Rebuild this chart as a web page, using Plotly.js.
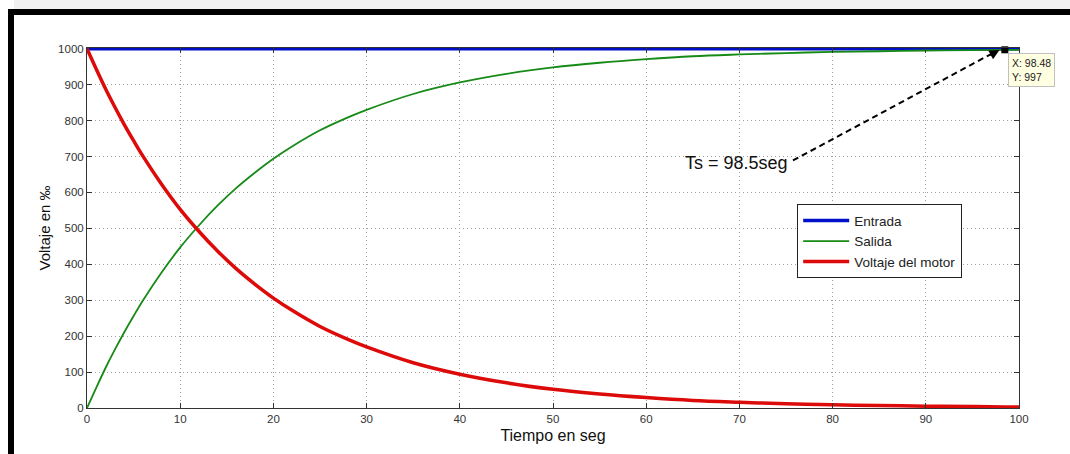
<!DOCTYPE html>
<html>
<head>
<meta charset="utf-8">
<script src="https://cdn.plot.ly/plotly-3.0.1.min.js"></script>
<style>
html,body{margin:0;padding:0;background:#fff;}
#wrap{position:relative;width:1070px;height:454px;overflow:hidden;}
#chart{position:absolute;left:0;top:0;width:1070px;height:454px;}
.bar{position:absolute;background:#000;z-index:5;}
#topband{position:absolute;left:14px;top:0;width:1056px;height:9px;background:#f1f1f1;z-index:5;}
</style>
</head>
<body>
<div id="wrap">
<div id="chart"></div>
<div id="topband"></div>
<div class="bar" style="left:8px;top:9px;width:1062px;height:6px;"></div>
<div class="bar" style="left:8px;top:9px;width:6px;height:445px;"></div>
</div>
<script>
// Data
const tiempo = [0,1,2,3,4,5,6,8,10,12,14,16,18,20,22,25,28,30,35,40,45,50,55,60,65,70,75,80,85,90,95,98.48,100];
const entrada = tiempo.map(() => 1000);
const salida = [0,57,112,163,211,256,299,377,447,508,563,612,655,694,728,773,809,830,874,906,930,948,961,971,979,984,988,991,993,995,996,997,997];
const voltajeMotor = [1000,943,888,837,789,744,701,623,553,492,437,388,345,306,272,227,191,170,126,94,70,52,39,29,21,16,12,9,7,5,4,3,3];
const xTicks = [0,10,20,30,40,50,60,70,80,90,100];
const yTicks = [0,100,200,300,400,500,600,700,800,900,1000];
const tip = {x: 98.48, y: 997};
const tailPt = {x: 75.75, y: 689};
const headPt = {x: 97.9, y: 996.5};

const FONT = 'Liberation Sans, Arial, sans-serif';

const traces = [
  {x: tiempo, y: entrada, mode: 'lines', name: 'Entrada',
   line: {color: '#0010c8', width: 3.5}},
  {x: tiempo, y: salida, mode: 'lines', name: 'Salida',
   line: {color: '#168a16', width: 1.8, shape: 'spline'}},
  {x: tiempo, y: voltajeMotor, mode: 'lines', name: 'Voltaje del motor',
   line: {color: '#dd0a0a', width: 3.5, shape: 'spline'}},
  {x: [tip.x], y: [tip.y], mode: 'markers', showlegend: false, cliponaxis: false,
   marker: {color: '#000', size: 7, symbol: 'square'}, hoverinfo: 'skip'}
];

const axisCommon = {
  showline: true, mirror: 'ticks', linecolor: '#333', linewidth: 1,
  ticks: 'inside', ticklen: 5, tickcolor: '#333', tickwidth: 1,
  showgrid: true, gridcolor: '#a0a0a0', griddash: '1px,3px', gridwidth: 1,
  zeroline: false, tickfont: {family: FONT, size: 11.5, color: '#333'},
  automargin: false
};

const layout = {
  width: 1070, height: 454,
  margin: {l: 87, r: 51, t: 48, b: 46},
  paper_bgcolor: '#fff', plot_bgcolor: '#fff',
  showlegend: true,
  font: {family: FONT, color: '#222'},
  xaxis: Object.assign({}, axisCommon, {
    range: [0, 100], tickvals: xTicks, ticktext: xTicks.map(String),
    title: {text: 'Tiempo en seg', font: {family: FONT, size: 16, color: '#111'}, standoff: 6}
  }),
  yaxis: Object.assign({}, axisCommon, {
    range: [0, 1002], tickvals: yTicks, ticktext: yTicks.map(String),
    title: {text: 'Voltaje en ‰', font: {family: FONT, size: 15, color: '#111'}, standoff: 3}
  }),
  legend: {
    x: 0.762, y: 0.566, xanchor: 'left', yanchor: 'top',
    bgcolor: '#fff', bordercolor: '#222', borderwidth: 1,
    font: {family: FONT, size: 13.5, color: '#222'},
    tracegroupgap: 0, itemwidth: 46
  },
  shapes: [
    {type: 'line', xref: 'x', yref: 'y', x0: tailPt.x, y0: tailPt.y, x1: headPt.x - 0.8, y1: headPt.y - 10,
     line: {color: '#000', width: 2, dash: '6px,4px'}}
  ],
  annotations: [
    {x: 75.4, y: 683, xref: 'x', yref: 'y', text: 'Ts = 98.5seg', showarrow: false,
     xanchor: 'right', yanchor: 'middle', font: {family: FONT, size: 18, color: '#111'}},
    {x: headPt.x, y: headPt.y, xref: 'x', yref: 'y', text: '', showarrow: true,
     arrowhead: 2, arrowsize: 1, arrowwidth: 2, arrowcolor: '#000', ax: -11, ay: 6},
    {x: tip.x, y: tip.y, xref: 'x', yref: 'y', text: 'X: 98.48<br>Y: 997', showarrow: false,
     xanchor: 'left', yanchor: 'top', xshift: 3, yshift: -3, align: 'left',
     bgcolor: '#ffffe1', bordercolor: '#c0c0c0', borderwidth: 1, borderpad: 3,
     font: {family: FONT, size: 10.5, color: '#222'}}
  ]
};

Plotly.newPlot('chart', traces, layout, {displayModeBar: false, staticPlot: true});
</script>
</body>
</html>
